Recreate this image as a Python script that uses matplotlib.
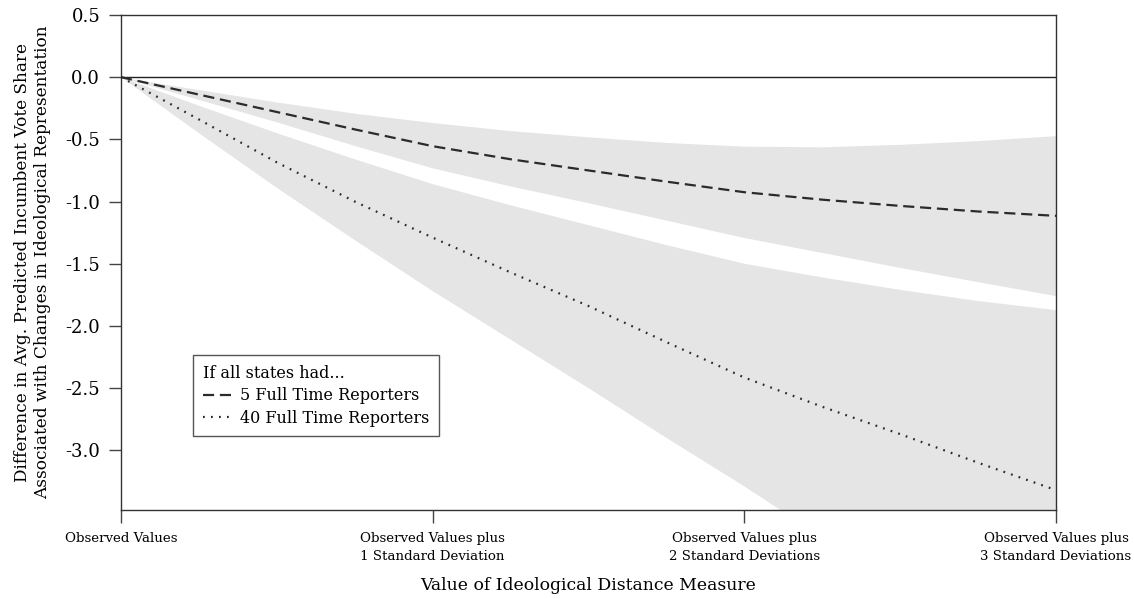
import matplotlib
matplotlib.use("Agg")
import matplotlib.pyplot as plt
import matplotlib.ticker as ticker
import numpy as np

plt.rcParams['font.family'] = ['DejaVu Serif']
plt.rcParams['axes.unicode_minus'] = False

# Ideological distance, in standard deviations above observed values
sd_steps = [0, 0.25, 0.5, 0.75, 1.0, 1.25, 1.5, 1.75, 2.0, 2.25, 2.5, 2.75, 3.0]

# 5 full time reporters: estimate and confidence band
est_5 = [0, -0.14, -0.28, -0.42, -0.555, -0.66, -0.75, -0.84, -0.925, -0.985, -1.035, -1.08, -1.115]
hi_5 = [0, -0.10, -0.20, -0.29, -0.365, -0.43, -0.48, -0.525, -0.555, -0.56, -0.54, -0.51, -0.47]
lo_5 = [0, -0.18, -0.36, -0.55, -0.73, -0.875, -1.01, -1.15, -1.29, -1.41, -1.53, -1.645, -1.757]

# 40 full time reporters: estimate and confidence band
est_40 = [0, -0.34, -0.685, -1.0, -1.29, -1.57, -1.84, -2.13, -2.415, -2.65, -2.87, -3.10, -3.32]
hi_40 = [0, -0.23, -0.45, -0.66, -0.86, -1.03, -1.19, -1.35, -1.50, -1.61, -1.71, -1.80, -1.873]
lo_40 = [0, -0.45, -0.89, -1.31, -1.72, -2.11, -2.50, -2.90, -3.29, -3.70, -4.10, -4.50, -4.90]

x_ticks = [0, 1, 2, 3]
x_labels = ['Observed Values',
            'Observed Values plus\n1 Standard Deviation',
            'Observed Values plus\n2 Standard Deviations',
            'Observed Values plus\n3 Standard Deviations']
y_ticks = [0.5, 0.0, -0.5, -1.0, -1.5, -2.0, -2.5, -3.0]

fig = plt.figure(figsize=(11.34, 5.99), dpi=100)
ax = fig.add_axes([0.1067, 0.1486, 0.8245, 0.8264])

band = '#e5e5e5'
ax.fill_between(sd_steps, lo_40, hi_40, color=band, lw=0, zorder=1)
ax.fill_between(sd_steps, lo_5, hi_5, color=band, lw=0, zorder=1)

ax.axhline(0, color='#222222', lw=1.0, zorder=2)

ax.plot(sd_steps, est_5, color='#2b2b2b', lw=1.6, linestyle=(0, (5, 2.6)),
        label='5 Full Time Reporters', zorder=3)
ax.plot(sd_steps, est_40, color='#2b2b2b', lw=1.6, linestyle=(0, (0.8, 2.8)),
        label='40 Full Time Reporters', zorder=3)

ax.set_xlim(0, 3)
ax.set_ylim(-3.48, 0.5)
ax.set_xticks(x_ticks)
ax.set_xticklabels(x_labels, fontsize=9.6, linespacing=1.45)
ax.set_yticks(y_ticks)
ax.yaxis.set_major_formatter(ticker.FormatStrFormatter('%.1f'))
ax.tick_params(axis='y', labelsize=13, length=9, width=1, color='#444444', pad=6)
ax.tick_params(axis='x', length=9, width=1, color='#444444', pad=7)

for s in ax.spines.values():
    s.set_color('#333333')
    s.set_linewidth(1.0)

ax.set_xlabel('Value of Ideological Distance Measure', fontsize=12.4, labelpad=10)
ax.set_ylabel('Difference in Avg. Predicted Incumbent Vote Share\n'
              'Associated with Changes in Ideological Representation',
              fontsize=12.2, labelpad=10, linespacing=1.25)

leg = ax.legend(loc='upper left', bbox_to_anchor=(0.0775, 0.313),
                title='If all states had...', fontsize=11.5, title_fontsize=11.5,
                fancybox=False, framealpha=1, edgecolor='#555555',
                handlelength=1.8, handletextpad=0.5, borderpad=0.6,
                borderaxespad=0, labelspacing=0.35)
leg._legend_box.align = 'left'
leg.get_frame().set_linewidth(1.0)

fig.savefig('out.png', dpi=100)
